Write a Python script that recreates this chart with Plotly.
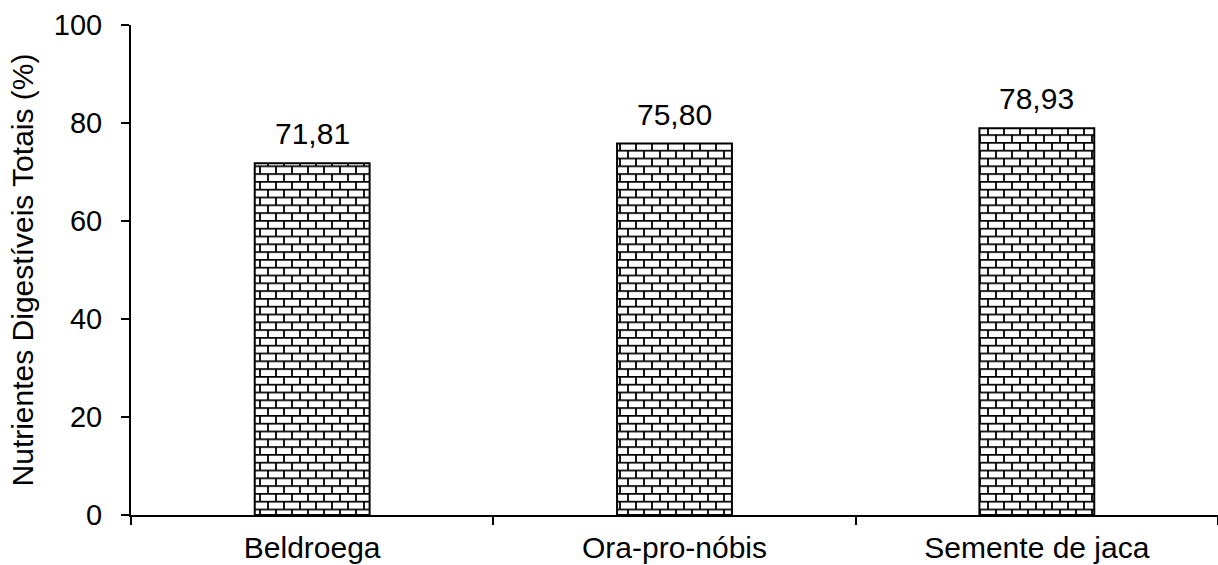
import plotly.graph_objects as go

categories = ["Beldroega", "Ora-pro-nóbis", "Semente de jaca"]
values = [71.81, 75.80, 78.93]
value_labels = ["71,81", "75,80", "78,93"]
y_ticks = [0, 20, 40, 60, 80, 100]
y_title = "Nutrientes Digestíveis Totais (%)"

FONT = "Liberation Sans, Arial, sans-serif"

fig = go.Figure()
fig.add_trace(go.Bar(
    x=categories,
    y=values,
    width=0.317,
    marker=dict(
        color="white",
        line=dict(color="black", width=2),
        pattern=dict(shape="+", fgcolor="black", bgcolor="white", size=10, solidity=0.25),
    ),
    hoverinfo="skip",
    showlegend=False,
))

for c, v, t in zip(categories, values, value_labels):
    fig.add_annotation(x=c, y=v, text=t, showarrow=False, yanchor="bottom",
                       yshift=11, font=dict(family=FONT, size=30, color="black"))

fig.update_layout(
    width=1218, height=565,
    margin=dict(l=131, r=0, t=25, b=50),
    plot_bgcolor="white", paper_bgcolor="white",
    font=dict(family=FONT, color="black"),
    xaxis=dict(
        type="category",
        automargin=False,
        tickson="boundaries",
        ticks="outside", ticklen=8, tickwidth=2, tickcolor="black",
        showline=True, linecolor="black", linewidth=2,
        showgrid=False, zeroline=False,
        tickfont=dict(family=FONT, size=30, color="black"),
        ticklabelstandoff=5,
    ),
    yaxis=dict(
        range=[0, 100],
        automargin=False,
        tickvals=y_ticks,
        ticktext=[str(v) for v in y_ticks],
        ticks="outside", ticklen=8, tickwidth=2, tickcolor="black",
        showline=True, linecolor="black", linewidth=2,
        showgrid=False, zeroline=False,
        tickfont=dict(family=FONT, size=29, color="black"),
        ticklabelstandoff=13,
        title=dict(text=y_title, font=dict(family=FONT, size=30, color="black"), standoff=11),
    ),
)

post_script = """
document.body.style.margin = '0';
document.body.style.overflow = 'hidden';
var gd = document.getElementById('{plot_id}');
function brick(){
  var svg = gd.querySelector('svg.main-svg');
  if(!svg) return;
  var defs = svg.querySelector('defs');
  var ns = 'http://www.w3.org/2000/svg';
  if(!document.getElementById('brickpat')){
    var p = document.createElementNS(ns, 'pattern');
    p.setAttribute('id', 'brickpat');
    p.setAttribute('patternUnits', 'userSpaceOnUse');
    p.setAttribute('width', '16');
    p.setAttribute('height', '15.6');
    p.setAttribute('x', '0');
    p.setAttribute('y', '0');
    var r = document.createElementNS(ns, 'rect');
    r.setAttribute('width', '16'); r.setAttribute('height', '15.6'); r.setAttribute('fill', 'white');
    p.appendChild(r);
    var l = document.createElementNS(ns, 'path');
    l.setAttribute('d', 'M0 0.9H16M0 8.7H16M1 0V7.8M9 7.8V15.6');
    l.setAttribute('stroke', 'black');
    l.setAttribute('stroke-width', '1.8');
    l.setAttribute('fill', 'none');
    p.appendChild(l);
    defs.appendChild(p);
  }
  gd.querySelectorAll('.barlayer .point path').forEach(function(e){
    e.style.fill = 'url(#brickpat)';
  });
}
brick();
gd.on('plotly_afterplot', brick);
"""

fig.write_html("out.html", post_script=post_script, config={"displayModeBar": False})
